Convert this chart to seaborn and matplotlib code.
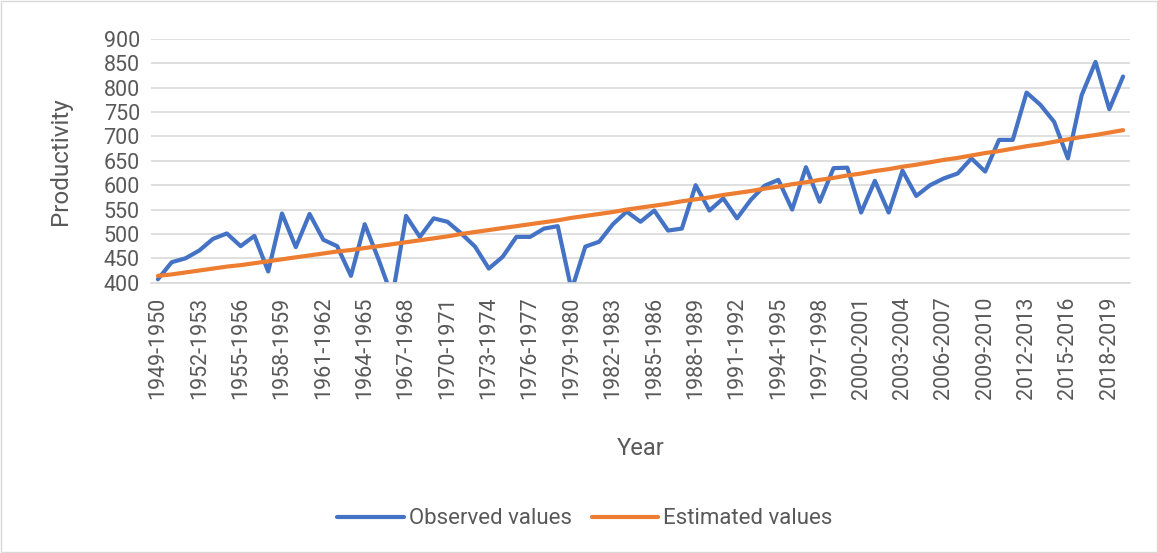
import numpy as np
import pandas as pd
from matplotlib import pyplot as plt
from matplotlib.lines import Line2D
from matplotlib.patches import Rectangle
import seaborn as sns

# season labels 1949-1950 ... 2019-2020
start_years = list(range(1949, 2020))
seasons = [f"{y}-{y + 1}" for y in start_years]

observed = [407, 442, 450, 466, 490, 501, 475, 496, 423, 542,
            473, 541, 488, 475, 414, 520, 448, 370, 537, 494,
            532, 525, 501, 474, 429, 453, 494, 494, 511, 516,
            385, 474, 484, 520, 546, 525, 548, 507, 511, 600,
            548, 573, 532, 570, 599, 611, 550, 637, 566, 635,
            636, 544, 609, 544, 630, 578, 600, 614, 624, 655,
            628, 693, 693, 790, 765, 730, 655, 785, 853, 756,
            823]

estimated = [414, 417, 421, 425, 429, 433, 436, 440, 444, 448,
             452, 456, 460, 464, 467, 471, 475, 479, 483, 487,
             491, 495, 500, 504, 508, 512, 516, 520, 524, 528,
             533, 537, 541, 545, 550, 554, 558, 562, 567, 571,
             575, 580, 584, 588, 593, 597, 602, 606, 611, 615,
             620, 624, 629, 633, 638, 642, 647, 652, 656, 661,
             666, 670, 675, 680, 684, 689, 694, 699, 703, 708,
             713]

df = pd.DataFrame({"idx": range(len(seasons)), "season": seasons,
                   "Observed values": observed, "Estimated values": estimated})

sns.set_style("white")
plt.rcParams['font.family'] = ['Roboto', 'DejaVu Sans']
txt = '#595959'
blue = '#4472C4'
orange = '#ED7D31'
lw = 3.0

fig = plt.figure(figsize=(11.58, 5.53), dpi=100)
ax = fig.add_axes([0.1304, 0.4888, 0.8454, 0.4407])

sns.lineplot(data=df, x="idx", y="Observed values", color=blue, linewidth=lw, ax=ax)
sns.lineplot(data=df, x="idx", y="Estimated values", color=orange, linewidth=lw, ax=ax)

ax.set_ylim(400, 900)
ax.set_xlim(-0.5, len(seasons) - 0.5)
ax.set_yticks(range(400, 901, 50))
ax.set_xticks(range(0, len(seasons), 3))
ax.set_xticklabels(seasons[::3], rotation=90)
ax.tick_params(axis='both', length=0, labelcolor=txt, labelsize=15.5)
ax.tick_params(axis='x', pad=10)
ax.tick_params(axis='y', pad=8)
ax.grid(axis='y', color='#d9d9d9', linewidth=1.2)
ax.set_axisbelow(True)
for s in ['left', 'right', 'top']:
    ax.spines[s].set_visible(False)
ax.spines['bottom'].set_color('#d9d9d9')
ax.spines['bottom'].set_linewidth(1.2)

ax.set_xlabel("Year", fontsize=17, color=txt)
ax.set_ylabel("Productivity", fontsize=17.5, color=txt)
ax.xaxis.set_label_coords(0.5, -0.633)
ax.yaxis.set_label_coords(-0.081, 0.5)

handles = [Line2D([], [], color=blue, linewidth=lw), Line2D([], [], color=orange, linewidth=lw)]
fig.legend(handles, ["Observed values", "Estimated values"], loc='center',
           bbox_to_anchor=(0.505, 0.0615), ncol=2, frameon=False, fontsize=16,
           labelcolor=txt, handlelength=3.0, columnspacing=0.9, handletextpad=0.2)

fig.patches.append(Rectangle((0.001, 0.001), 0.998, 0.998, transform=fig.transFigure,
                             fill=False, edgecolor='#d9d9d9', linewidth=1))

fig.savefig("out.png", dpi=100)
